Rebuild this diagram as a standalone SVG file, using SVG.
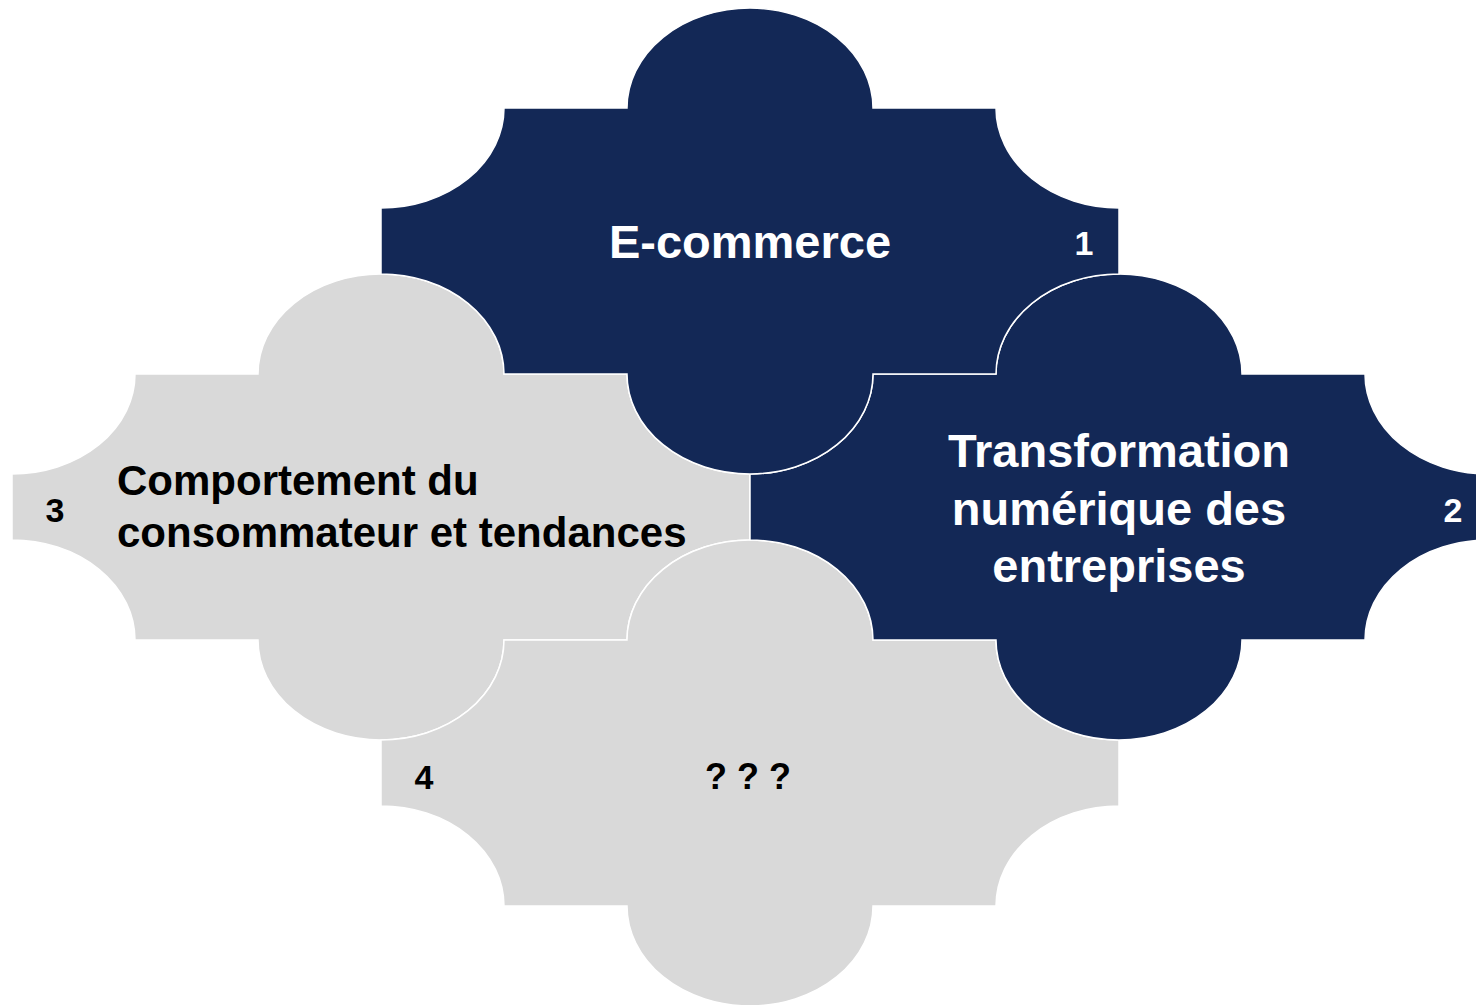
<svg xmlns="http://www.w3.org/2000/svg" xmlns:xlink="http://www.w3.org/1999/xlink" width="1476" height="1005" viewBox="0 0 1476 1005">
<style>
.dark{fill:#132856;stroke:#ffffff;stroke-width:1.5}
.light{fill:#D9D9D9;stroke:#ffffff;stroke-width:1.5}
text{font-family:"Liberation Sans",Arial,sans-serif;font-weight:bold}
.w{fill:#ffffff}
.b{fill:#000000}
.big{font-size:47px}
.mid{font-size:42px}
.num{font-size:34px}
</style>
<defs>
<path id="piece" d="M123,0 H246 A123,100 0 0 1 492,0 H615 A123,100 0 0 0 738,100 V166 A123,100 0 0 0 615,266 H492 A123,100 0 0 1 246,266 H123 A123,100 0 0 0 0,166 V100 A123,100 0 0 0 123,0 Z"/>
</defs>
<g id="node3">
<use xlink:href="#piece" href="#piece" class="light" transform="translate(12,374)"/>
<text class="b num" x="55" y="522" text-anchor="middle">3</text>
<text class="b mid" x="117" y="495">Comportement du</text>
<text class="b mid" x="117" y="547">consommateur et tendances</text>
</g>
<g id="node4">
<use xlink:href="#piece" href="#piece" class="light" transform="translate(381,640)"/>
<text class="b num" x="424" y="789" text-anchor="middle">4</text>
<text class="b" style="font-size:36px" x="748" y="789" text-anchor="middle">? ? ?</text>
</g>
<g id="node2">
<use xlink:href="#piece" href="#piece" class="dark" transform="translate(750,374)"/>
<text class="w big" x="1119" y="467" text-anchor="middle">Transformation</text>
<text class="w big" x="1119" y="525" text-anchor="middle">numérique des</text>
<text class="w big" x="1119" y="582" text-anchor="middle">entreprises</text>
<text class="w num" x="1453" y="522" text-anchor="middle">2</text>
</g>
<g id="node1">
<use xlink:href="#piece" href="#piece" class="dark" transform="translate(381,108)"/>
<text class="w big" x="750" y="258" text-anchor="middle">E-commerce</text>
<text class="w num" x="1084" y="255" text-anchor="middle">1</text>
</g>
<g id="connectors"></g>
</svg>
